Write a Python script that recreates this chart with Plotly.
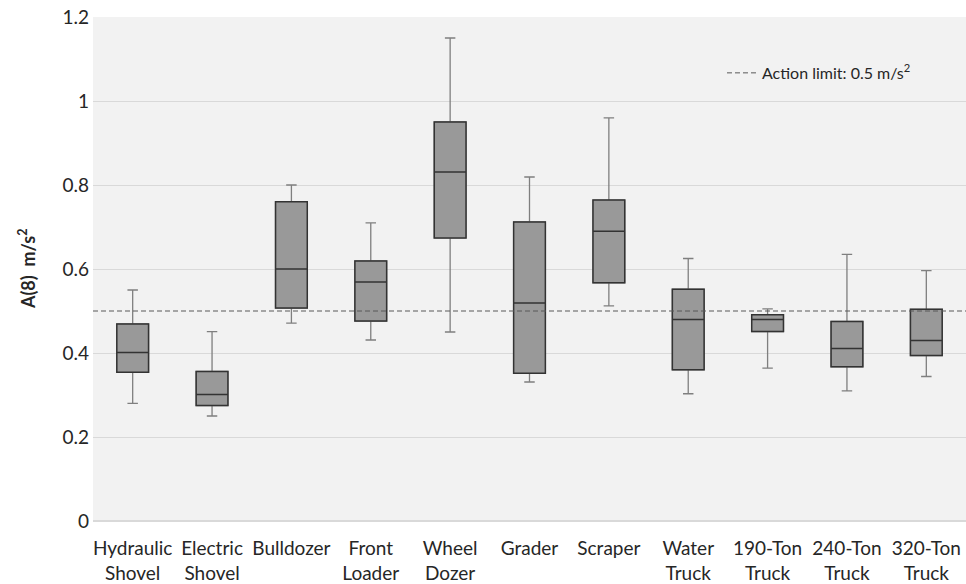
import plotly.graph_objects as go

categories = ["Hydraulic<br>Shovel", "Electric<br>Shovel", "Bulldozer", "Front<br>Loader", "Wheel<br>Dozer",
              "Grader", "Scraper", "Water<br>Truck", "190-Ton<br>Truck", "240-Ton<br>Truck", "320-Ton<br>Truck"]
lower = [0.28, 0.25, 0.471, 0.431, 0.45, 0.331, 0.512, 0.303, 0.364, 0.31, 0.344]
q1 = [0.354, 0.275, 0.507, 0.476, 0.674, 0.352, 0.567, 0.36, 0.451, 0.367, 0.394]
median = [0.401, 0.301, 0.60, 0.569, 0.831, 0.519, 0.69, 0.48, 0.48, 0.411, 0.43]
q3 = [0.469, 0.356, 0.76, 0.619, 0.95, 0.712, 0.764, 0.552, 0.491, 0.475, 0.504]
upper = [0.55, 0.451, 0.80, 0.71, 1.15, 0.819, 0.96, 0.625, 0.505, 0.635, 0.596]
action_limit = 0.5

FONT = "Lato, 'Open Sans', sans-serif"

fig = go.Figure()
# whiskers (lighter grey)
fig.add_trace(go.Box(x=categories, q1=q1, median=median, q3=q3, lowerfence=lower, upperfence=upper,
                     fillcolor="#999999", line=dict(color="#7f7f7f", width=1.3), whiskerwidth=0.33,
                     width=0.4, boxpoints=False, showlegend=False, hoverinfo="skip"))
# box body (dark outline)
fig.add_trace(go.Box(x=categories, q1=q1, median=median, q3=q3, lowerfence=q1, upperfence=q3,
                     fillcolor="#999999", line=dict(color="#333333", width=1.5), whiskerwidth=0,
                     width=0.4, boxpoints=False, showlegend=False))
# legend entry for action limit
fig.add_trace(go.Scatter(x=[None], y=[None], mode="lines", name="Action limit: 0.5 m/s<sup>2</sup>",
                         line=dict(color="#595959", width=1, dash="5px,3px")))

fig.add_shape(type="line", xref="paper", x0=0, x1=1, yref="y", y0=action_limit, y1=action_limit,
              line=dict(color="#595959", width=1, dash="5px,3px"))

# y-axis title
fig.add_annotation(text="<b>A(8)  m/s<sup>2</sup></b>", xref="paper", yref="paper",
                   x=-0.0755, y=0.5, textangle=-90, showarrow=False,
                   xanchor="center", yanchor="middle", font=dict(size=18, color="#262626"))

fig.update_layout(
    width=966, height=584,
    margin=dict(l=93, r=0, t=17, b=63),
    plot_bgcolor="#f2f2f2", paper_bgcolor="white",
    boxmode="overlay",
    font=dict(family=FONT, size=18, color="#262626"),
    legend=dict(x=0.7205, y=0.889, xanchor="left", yanchor="middle", bgcolor="rgba(0,0,0,0)",
                font=dict(size=16, color="#262626")),
    xaxis=dict(showgrid=False, tickfont=dict(size=19), ticks="", showline=False,
               range=[-0.5, 10.5], automargin=False, ticklabelstandoff=14),
    yaxis=dict(range=[0, 1.2], dtick=0.2, showgrid=True, gridcolor="#d9d9d9", gridwidth=1,
               zeroline=True, zerolinecolor="#d9d9d9", tickfont=dict(size=19),
               ticklabelstandoff=3, automargin=False),
)

fig.write_html("out.html", config={"displayModeBar": False},
               post_script="document.body.style.margin='0';")
